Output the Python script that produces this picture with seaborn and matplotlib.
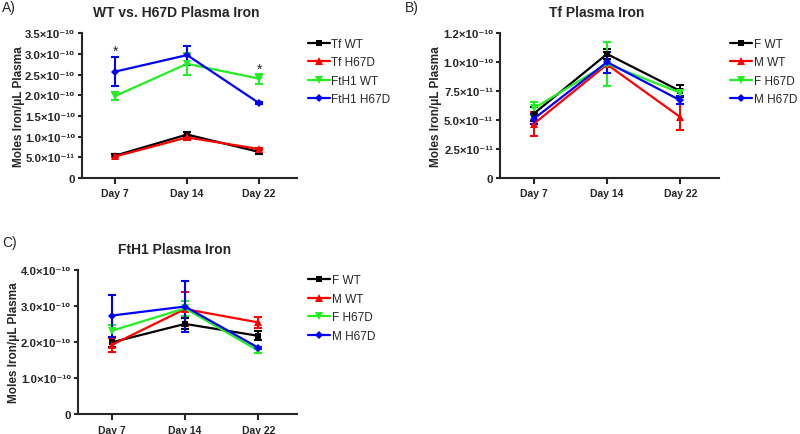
import numpy as np
import pandas as pd
import matplotlib
matplotlib.use("Agg")
import matplotlib.pyplot as plt
import seaborn as sns
from matplotlib.ticker import FuncFormatter

days = ["Day 7", "Day 14", "Day 22"]

# Panel A: WT vs. H67D (values in 1e-10 mol)
a_series = ["Tf WT", "Tf H67D", "FtH1 WT", "FtH1 H67D"]
a_tf_wt = [0.54, 1.05, 0.63]
a_tf_h67d = [0.52, 0.98, 0.70]
a_fth1_wt = [1.98, 2.76, 2.40]
a_fth1_h67d = [2.57, 2.97, 1.81]
a_tf_wt_err = [0.03, 0.05, 0.05]
a_tf_h67d_err = [0.02, 0.06, 0.03]
a_fth1_wt_err = [0.10, 0.26, 0.12]
a_fth1_h67d_err = [0.35, 0.23, 0.02]

# Panel B: Tf plasma iron (values in 1e-11 mol)
sex_series = ["F WT", "M WT", "F H67D", "M H67D"]
b_f_wt = [5.55, 10.7, 7.5]
b_m_wt = [4.67, 9.8, 5.25]
b_f_h67d = [6.0, 9.85, 7.35]
b_m_h67d = [5.1, 10.0, 6.7]
b_f_wt_err = [0.6, 0.4, 0.5]
b_m_wt_err = [1.05, 0.7, 1.15]
b_f_h67d_err = [0.6, 1.9, 0.3]
b_m_h67d_err = [0.45, 0.9, 0.35]

# Panel C: FtH1 plasma iron (values in 1e-10 mol)
c_f_wt = [1.99, 2.50, 2.17]
c_m_wt = [1.92, 2.91, 2.54]
c_f_h67d = [2.31, 2.93, 1.76]
c_m_h67d = [2.73, 2.98, 1.84]
c_f_wt_err = [0.13, 0.15, 0.12]
c_m_wt_err = [0.20, 0.47, 0.15]
c_f_h67d_err = [0.17, 0.20, 0.07]
c_m_h67d_err = [0.58, 0.70, 0.03]

colors = ["#000000", "#ff0000", "#22ee22", "#0000ff"]
markers = ["s", "^", "v", "D"]
msizes = [4.2, 5.2, 5.2, 4.0]

sns.set_style("ticks")
plt.rcParams["font.family"] = ["Liberation Sans", "DejaVu Sans"]

SUP = str.maketrans("-0123456789", "⁻⁰¹²³⁴⁵⁶⁷⁸⁹")


def sci_fmt(v, pos):
    if abs(v) < 1e-20:
        return "0"
    exp = int(np.floor(np.log10(abs(v)) + 1e-9))
    mant = v / 10 ** exp
    return f"{mant:.1f}×10" + str(exp).translate(SUP)


def make_df(names, means, errs, scale):
    rows = []
    for name, m, e in zip(names, means, errs):
        for d, mv, ev in zip(days, m, e):
            rows.append({"day": d, "group": name, "value": mv * scale, "err": ev * scale})
    return pd.DataFrame(rows)


def draw_panel(ax, df, names, title, ymax, ystep):
    for i, name in enumerate(names):
        sub = df[df["group"] == name]
        xs = np.arange(len(days))
        ax.errorbar(xs, sub["value"], yerr=sub["err"], fmt="none", ecolor=colors[i],
                    elinewidth=1.5, capsize=3, capthick=1.5, zorder=2 + i)
    n_before = len(ax.lines)
    sns.lineplot(data=df, x="day", y="value", hue="group", style="group",
                 hue_order=names, style_order=names, palette=colors,
                 markers=markers, dashes=False, sort=False, ax=ax,
                 linewidth=1.6, markeredgewidth=0, zorder=10, legend=False)
    for line, ms in zip(ax.lines[n_before:], msizes):
        line.set_markersize(ms)
    ax.set_xlim(-0.46, 2.53)
    ax.set_ylim(0, ymax)
    ax.set_yticks(np.arange(0, ymax + ystep / 2, ystep))
    ax.yaxis.set_major_formatter(FuncFormatter(sci_fmt))
    ax.set_xlabel("")
    ax.set_ylabel("Moles Iron/μL Plasma", fontsize=8.5, fontweight="bold")
    ax.yaxis.set_label_coords(-0.265, 0.5)
    sns.despine(ax=ax)
    for sp in ["left", "bottom"]:
        ax.spines[sp].set_linewidth(1.5)
    ax.tick_params(axis="x", width=1.5, length=4, labelsize=7.5)
    ax.tick_params(axis="y", width=1.5, length=3, pad=2, labelsize=8.2)
    for lab in ax.get_xticklabels() + ax.get_yticklabels():
        lab.set_fontweight("bold")
    ax.text(0.44, 1.145, title, transform=ax.transAxes, ha="center", va="center",
            fontsize=10, fontweight="bold")
    handles = [plt.Line2D([], [], color=c, marker=m, markersize=ms, markeredgewidth=0,
                          linewidth=1.6) for c, m, ms in zip(colors, markers, msizes)]
    ax.legend(handles, names, loc="upper left", bbox_to_anchor=(1.03, 1.0),
              frameon=False, fontsize=8.5, handlelength=1.8, handletextpad=0.15,
              labelspacing=0.55, borderaxespad=0)


fig = plt.figure(figsize=(8, 4.35), dpi=100)
ax_a = fig.add_axes([0.1025, 0.5885, 0.269, 0.333])
ax_b = fig.add_axes([0.625, 0.5885, 0.274, 0.333])
ax_c = fig.add_axes([0.0975, 0.045, 0.274, 0.333])

df_a = make_df(a_series, [a_tf_wt, a_tf_h67d, a_fth1_wt, a_fth1_h67d],
               [a_tf_wt_err, a_tf_h67d_err, a_fth1_wt_err, a_fth1_h67d_err], 1e-10)
df_b = make_df(sex_series, [b_f_wt, b_m_wt, b_f_h67d, b_m_h67d],
               [b_f_wt_err, b_m_wt_err, b_f_h67d_err, b_m_h67d_err], 1e-11)
df_c = make_df(sex_series, [c_f_wt, c_m_wt, c_f_h67d, c_m_h67d],
               [c_f_wt_err, c_m_wt_err, c_f_h67d_err, c_m_h67d_err], 1e-10)

draw_panel(ax_a, df_a, a_series, "WT vs. H67D Plasma Iron", 3.5e-10, 0.5e-10)
draw_panel(ax_b, df_b, sex_series, "Tf Plasma Iron", 1.2e-10, 2.5e-11)
draw_panel(ax_c, df_c, sex_series, "FtH1 Plasma Iron", 4.0e-10, 1.0e-10)

# significance stars
ax_a.text(0, 3.08e-10, "*", ha="center", va="center", fontsize=10)
ax_a.text(2, 2.65e-10, "*", ha="center", va="center", fontsize=10)

fig.text(0.003, 0.982, "A)", fontsize=10, va="center")
fig.text(0.506, 0.982, "B)", fontsize=10, va="center")
fig.text(0.003, 0.441, "C)", fontsize=10, va="center")

fig.savefig("out.png", dpi=100)
